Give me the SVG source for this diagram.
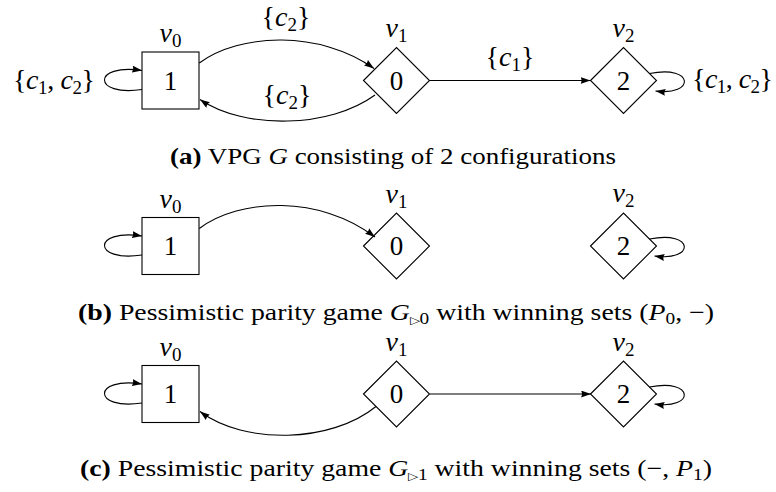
<svg xmlns="http://www.w3.org/2000/svg" width="776" height="492" viewBox="0 0 776 492" font-family="'Liberation Serif', 'Times New Roman', serif">
<defs>
<marker id="arr" viewBox="0 0 10 7" markerWidth="10" markerHeight="7" refX="10" refY="3.5" orient="auto" markerUnits="userSpaceOnUse">
<path d="M0,0 L10,3.5 L0,7 Q2,3.5 0,0 z" fill="#000"/>
</marker>
<style>
.node rect, .node polygon { fill: #fff; stroke: #000; stroke-width: 1.1; }
.edge { fill: none; stroke: #000; stroke-width: 1.1; marker-end: url(#arr); }
text { font-family: "Liberation Serif", "Times New Roman", serif; fill: #000; }
.num { font-size: 27px; text-anchor: middle; }
.lab { font-size: 28px; text-anchor: middle; }
.cap { font-size: 23px; text-anchor: middle; }
.it { font-style: italic; }
.sub { font-size: 19px; }
.csub { font-size: 16px; }
.tri { font-size: 11px; }
.bf { font-weight: bold; }
</style>
</defs>
<rect width="776" height="492" fill="#fff"/>

<!-- Panel (a) -->
<g id="a-v0" class="node">
<rect x="142" y="52" width="57" height="57"/>
<text class="num" x="170.5" y="89.5">1</text>
<text class="lab" x="170.5" y="41.5"><tspan class="it">v</tspan><tspan class="sub" dy="5">0</tspan></text>
</g>
<g id="a-v1" class="node">
<polygon points="363.5,80.5 396.5,47.5 429.5,80.5 396.5,113.5"/>
<text class="num" x="396.5" y="89.5">0</text>
<text class="lab" x="396.5" y="36.5"><tspan class="it">v</tspan><tspan class="sub" dy="5">1</tspan></text>
</g>
<g id="a-v2" class="node">
<polygon points="590.5,80.5 623.5,47.5 656.5,80.5 623.5,113.5"/>
<text class="num" x="623.5" y="89.5">2</text>
<text class="lab" x="623.5" y="37"><tspan class="it">v</tspan><tspan class="sub" dy="5">2</tspan></text>
</g>

<!-- Panel (b) -->
<g id="b-v0" class="node">
<rect x="142" y="217.5" width="57" height="57"/>
<text class="num" x="170.5" y="255">1</text>
<text class="lab" x="170.5" y="207.5"><tspan class="it">v</tspan><tspan class="sub" dy="5">0</tspan></text>
</g>
<g id="b-v1" class="node">
<polygon points="363.5,246 396.5,213 429.5,246 396.5,279"/>
<text class="num" x="396.5" y="255">0</text>
<text class="lab" x="396.5" y="202.5"><tspan class="it">v</tspan><tspan class="sub" dy="5">1</tspan></text>
</g>
<g id="b-v2" class="node">
<polygon points="590.5,246 623.5,213 656.5,246 623.5,279"/>
<text class="num" x="623.5" y="255">2</text>
<text class="lab" x="623.5" y="202"><tspan class="it">v</tspan><tspan class="sub" dy="5">2</tspan></text>
</g>

<!-- Panel (c) -->
<g id="c-v0" class="node">
<rect x="142" y="365.5" width="57" height="57"/>
<text class="num" x="170.5" y="403">1</text>
<text class="lab" x="170.5" y="355.5"><tspan class="it">v</tspan><tspan class="sub" dy="5">0</tspan></text>
</g>
<g id="c-v1" class="node">
<polygon points="363.5,394 396.5,361 429.5,394 396.5,427"/>
<text class="num" x="396.5" y="403">0</text>
<text class="lab" x="396.5" y="350.5"><tspan class="it">v</tspan><tspan class="sub" dy="5">1</tspan></text>
</g>
<g id="c-v2" class="node">
<polygon points="590.5,394 623.5,361 656.5,394 623.5,427"/>
<text class="num" x="623.5" y="403">2</text>
<text class="lab" x="623.5" y="350.5"><tspan class="it">v</tspan><tspan class="sub" dy="5">2</tspan></text>
</g>

<g id="connectors">
<!-- (a) -->
<path class="edge" d="M199.3,63 C240,33 320,30 374,68.5"/>
<path class="edge" d="M375,95 C330,128 245,130 200,99.5"/>
<path class="edge" d="M429.5,80.5 L590.5,80.5"/>
<path class="edge" d="M142,89.5 C92,97 92,63 142,70.5"/>
<path class="edge" d="M649.5,73.5 C695,64.5 695,96.5 655.5,91"/>
<text class="lab" x="286" y="26">{<tspan class="it">c</tspan><tspan class="sub" dy="5">2</tspan><tspan dy="-5">}</tspan></text>
<text class="lab" x="287" y="104">{<tspan class="it">c</tspan><tspan class="sub" dy="5">2</tspan><tspan dy="-5">}</tspan></text>
<text class="lab" x="510" y="66">{<tspan class="it">c</tspan><tspan class="sub" dy="5">1</tspan><tspan dy="-5">}</tspan></text>
<text class="lab" x="54" y="89" textLength="82">{<tspan class="it">c</tspan><tspan class="sub" dy="5">1</tspan><tspan dy="-5">, </tspan><tspan class="it">c</tspan><tspan class="sub" dy="5">2</tspan><tspan dy="-5">}</tspan></text>
<text class="lab" x="732.5" y="88" textLength="81">{<tspan class="it">c</tspan><tspan class="sub" dy="5">1</tspan><tspan dy="-5">, </tspan><tspan class="it">c</tspan><tspan class="sub" dy="5">2</tspan><tspan dy="-5">}</tspan></text>
<!-- (b) -->
<path class="edge" d="M199.3,228.5 C240,198 320,195 375,237"/>
<path class="edge" d="M142,255 C92,262.5 92,228.5 142,236"/>
<path class="edge" d="M649.5,239 C695,230 695,262 654.5,256"/>
<!-- (c) -->
<path class="edge" d="M376,406.5 C331,443 245,445 200,411.5"/>
<path class="edge" d="M430,394 L591,394"/>
<path class="edge" d="M142,403 C92,410.5 92,376.5 142,384"/>
<path class="edge" d="M649.5,387 C695,378 695,410 654.5,404"/>
</g>

<g id="captions">
<text class="cap" x="393" y="164" textLength="446" lengthAdjust="spacingAndGlyphs"><tspan class="bf">(a)</tspan> VPG <tspan class="it">G</tspan> consisting of 2 configurations</text>
<text class="cap" x="396" y="320" textLength="636" lengthAdjust="spacingAndGlyphs"><tspan class="bf">(b)</tspan> Pessimistic parity game <tspan class="it">G</tspan><tspan class="tri" dy="4">▷</tspan><tspan class="csub">0</tspan><tspan dy="-4"> with winning sets (</tspan><tspan class="it">P</tspan><tspan class="csub" dy="4">0</tspan><tspan dy="-4">, −)</tspan></text>
<text class="cap" x="396" y="476" textLength="632" lengthAdjust="spacingAndGlyphs"><tspan class="bf">(c)</tspan> Pessimistic parity game <tspan class="it">G</tspan><tspan class="tri" dy="4">▷</tspan><tspan class="csub">1</tspan><tspan dy="-4"> with winning sets (−, </tspan><tspan class="it">P</tspan><tspan class="csub" dy="4">1</tspan><tspan dy="-4">)</tspan></text>
</g>
</svg>
